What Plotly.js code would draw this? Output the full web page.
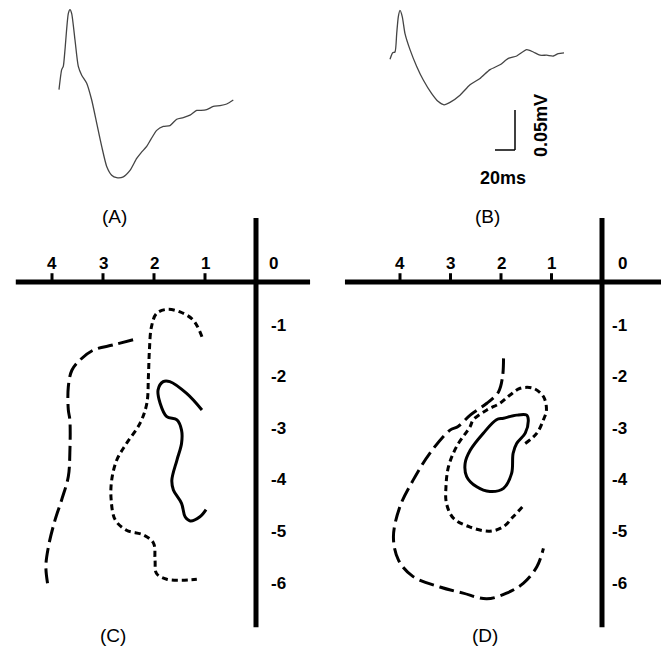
<!DOCTYPE html>
<html>
<head>
<meta charset="utf-8">
<script src="https://cdn.plot.ly/plotly-3.0.1.min.js"></script>
<style>html,body{margin:0;padding:0;background:#fff;}#chart{width:661px;height:650px;}</style>
</head>
<body>
<div id="chart"></div>
<script>
// ---- Waveform data (time in ms, voltage in mV) ----
var waveA_t = [0, 2.7, 4.3, 6, 9.3, 11, 12.7, 16, 19.3, 22.7, 27.7, 32.7, 37.7, 42.7, 47.7, 52.7, 57.7, 64.3, 71, 77.7, 82, 87.7, 92, 97.7, 104.3, 111, 117.7, 124.3, 131, 137.7, 142, 147.7, 154.3, 161, 167.7, 174.3];
var waveA_v = [0.013, 0.038, 0.042, 0.063, 0.108, 0.113, 0.108, 0.075, 0.042, 0.031, 0.021, 0, -0.029, -0.058, -0.083, -0.094, -0.097, -0.096, -0.088, -0.073, -0.066, -0.058, -0.049, -0.038, -0.033, -0.032, -0.024, -0.022, -0.019, -0.013, -0.013, -0.012, -0.008, -0.007, -0.005, 0];
var waveB_t = [0, 2.7, 5, 6.7, 8.3, 10, 12.3, 15, 20, 26.7, 33.3, 41.7, 48.3, 54, 60, 70, 80, 90, 100, 110, 118.3, 126.7, 136.7, 143.3, 150, 156.7, 163.3, 168.3, 174];
var waveB_v = [0.051, 0.059, 0.060, 0.083, 0.104, 0.112, 0.104, 0.083, 0.063, 0.042, 0.025, 0.008, -0.002, -0.006, -0.003, 0.006, 0.019, 0.027, 0.038, 0.044, 0.052, 0.055, 0.063, 0.060, 0.056, 0.056, 0.055, 0.058, 0.059];
var scaleTime = 20;     // ms
var scaleVolt = 0.05;   // mV

// ---- Map data (C) ----
var cLong_x  = [2.41, 2.80, 3.19, 3.45, 3.61, 3.68, 3.68, 3.65, 3.65, 3.68, 3.81, 3.94, 4.07, 4.12, 4.07];
var cLong_y  = [-1.12, -1.22, -1.32, -1.51, -1.71, -2.03, -2.48, -2.67, -3.31, -3.77, -4.22, -4.61, -5.13, -5.52, -5.94];
var cShort_x = [1.06, 1.23, 1.49, 1.75, 1.95, 2.05, 2.09, 2.11, 2.14, 2.27, 2.54, 2.73, 2.83, 2.84, 2.76, 2.54, 2.21, 2.01, 1.98, 1.95, 1.75, 1.46, 1.16];
var cShort_y = [-1.06, -0.74, -0.58, -0.53, -0.61, -0.87, -1.32, -1.84, -2.35, -2.73, -3.13, -3.45, -3.84, -4.22, -4.61, -4.81, -4.90, -5.06, -5.39, -5.65, -5.76, -5.78, -5.76];
var cSolid_x = [1.06, 1.36, 1.69, 1.82, 1.92, 1.88, 1.75, 1.55, 1.46, 1.46, 1.55, 1.65, 1.62, 1.46, 1.39, 1.29, 1.10, 0.98];
var cSolid_y = [-2.48, -2.16, -1.93, -1.93, -2.09, -2.35, -2.61, -2.67, -2.87, -3.13, -3.45, -3.84, -4.03, -4.29, -4.55, -4.63, -4.55, -4.41];

// ---- Map data (D) ----
var dLong_x  = [1.95, 1.97, 2.05, 2.28, 2.61, 2.85, 3.01, 3.41, 3.74, 4.00, 4.13, 4.03, 3.74, 3.21, 2.75, 2.28, 1.89, 1.56, 1.29, 1.16];
var dLong_y  = [-1.48, -1.84, -2.13, -2.35, -2.58, -2.80, -2.87, -3.32, -3.84, -4.35, -4.94, -5.39, -5.71, -5.91, -6.03, -6.14, -6.03, -5.84, -5.52, -5.16];
var dShort_x = [1.52, 1.29, 1.16, 1.10, 1.16, 1.36, 1.62, 1.82, 2.02, 2.28, 2.55, 2.61, 2.88, 3.04, 3.09, 3.08, 2.94, 2.61, 2.22, 1.95, 1.76, 1.56];
var dShort_y = [-3.13, -2.93, -2.67, -2.48, -2.22, -2.06, -2.06, -2.19, -2.35, -2.48, -2.67, -2.80, -3.19, -3.58, -3.97, -4.29, -4.58, -4.75, -4.83, -4.74, -4.55, -4.34];
var dSolid_x = [1.49, 1.46, 1.52, 1.69, 1.76, 1.79, 1.95, 2.22, 2.48, 2.68, 2.71, 2.61, 2.35, 2.09, 1.95, 1.69, 1.49];
var dSolid_y = [-2.58, -2.67, -2.93, -3.13, -3.32, -3.71, -4.00, -4.06, -3.97, -3.77, -3.51, -3.26, -2.93, -2.67, -2.64, -2.58, -2.58];

// ---- Tick labels ----
var xTickVals = [4, 3, 2, 1];
var xTickText = ['4', '3', '2', '1'];
var yTickVals = [-1, -2, -3, -4, -5, -6];
var yTickText = ['-1', '-2', '-3', '-4', '-5', '-6'];
var panelLabels = ['(A)', '(B)', '(C)', '(D)'];

// ---- layout helpers (pixel -> paper) ----
var W = 661, H = 650;
function px(x) { return x / W; }
function py(y) { return 1 - y / H; }

var LONG = '15px,6px', SHORT = '6px,4px';
var traces = [
  {x: waveA_t, y: waveA_v, xaxis: 'x', yaxis: 'y', mode: 'lines', line: {color: '#444', width: 1.3, shape: 'spline', smoothing: 0.6}},
  {x: waveB_t, y: waveB_v, xaxis: 'x2', yaxis: 'y2', mode: 'lines', line: {color: '#444', width: 1.3, shape: 'spline', smoothing: 0.6}},
  {x: cLong_x, y: cLong_y, xaxis: 'x3', yaxis: 'y3', mode: 'lines', line: {color: '#000', width: 3, dash: LONG, shape: 'spline'}},
  {x: cShort_x, y: cShort_y, xaxis: 'x3', yaxis: 'y3', mode: 'lines', line: {color: '#000', width: 3, dash: SHORT, shape: 'spline'}},
  {x: cSolid_x, y: cSolid_y, xaxis: 'x3', yaxis: 'y3', mode: 'lines', line: {color: '#000', width: 3, shape: 'spline'}},
  {x: dLong_x, y: dLong_y, xaxis: 'x4', yaxis: 'y4', mode: 'lines', line: {color: '#000', width: 3, dash: LONG, shape: 'spline'}},
  {x: dShort_x, y: dShort_y, xaxis: 'x4', yaxis: 'y4', mode: 'lines', line: {color: '#000', width: 3, dash: SHORT, shape: 'spline'}},
  {x: dSolid_x, y: dSolid_y, xaxis: 'x4', yaxis: 'y4', mode: 'lines', line: {color: '#000', width: 3, shape: 'spline'}}
];

function hidden(extra) {
  var o = {visible: true, showgrid: false, zeroline: false, showline: false, showticklabels: false, ticks: '', fixedrange: true};
  for (var k in extra) o[k] = extra[k];
  return o;
}

var shapes = [];
var annotations = [];
var boldFont = {family: 'Liberation Sans, Arial, sans-serif', size: 17, color: '#000', weight: 'bold'};
var plainFont = {family: 'Liberation Sans, Arial, sans-serif', size: 19, color: '#000'};

// map panels
var panels = [
  {xa: 'x3', ya: 'y3', hx0: 4.71, hx1: -1.06, zx: 11, yx: 13},
  {xa: 'x4', ya: 'y4', hx0: 5.09, hx1: -1.2, zx: 14, yx: 8}
];
panels.forEach(function (p) {
  shapes.push({type: 'line', xref: p.xa, yref: p.ya, x0: p.hx0, x1: p.hx1, y0: 0, y1: 0, line: {color: '#000', width: 5}});
  shapes.push({type: 'line', xref: p.xa, yref: p.ya, x0: 0, x1: 0, y0: 1.24, y1: -6.69, line: {color: '#000', width: 5}});
  xTickVals.forEach(function (v, i) {
    shapes.push({type: 'line', xref: p.xa, yref: p.ya, x0: v, x1: v, y0: 0, y1: 0.17, line: {color: '#000', width: 3}});
    annotations.push({xref: p.xa, yref: p.ya, x: v, y: 0, text: xTickText[i], showarrow: false, xanchor: 'center', yanchor: 'bottom', yshift: 7, font: boldFont});
  });
  annotations.push({xref: p.xa, yref: p.ya, x: 0, y: 0, text: '0', showarrow: false, xanchor: 'left', yanchor: 'bottom', xshift: p.zx, yshift: 7, font: boldFont});
  yTickVals.forEach(function (v, i) {
    annotations.push({xref: p.xa, yref: p.ya, x: 0, y: v, text: yTickText[i], showarrow: false, xanchor: 'left', yanchor: 'middle', xshift: p.yx, yshift: 8.5, font: boldFont});
  });
});

// scale bar in panel B
var sbT = 105, sbV = -0.0625;
shapes.push({type: 'line', xref: 'x2', yref: 'y2', x0: sbT, x1: sbT + scaleTime, y0: sbV, y1: sbV, line: {color: '#000', width: 1.5}});
shapes.push({type: 'line', xref: 'x2', yref: 'y2', x0: sbT + scaleTime, x1: sbT + scaleTime, y0: sbV, y1: sbV + scaleVolt, line: {color: '#000', width: 1.5}});
annotations.push({xref: 'x2', yref: 'y2', x: sbT + scaleTime / 2 - 2, y: sbV, yanchor: 'top', yshift: -16, text: scaleTime + 'ms', showarrow: false, font: {family: 'Liberation Sans, Arial, sans-serif', size: 18, color: '#000', weight: 'bold'}});
annotations.push({xref: 'x2', yref: 'y2', x: sbT + scaleTime + 26, y: sbV + 0.03, text: scaleVolt + 'mV', textangle: -90, showarrow: false, font: {family: 'Liberation Sans, Arial, sans-serif', size: 18, color: '#000', weight: 'bold'}});

// panel letters
var letterPos = [[114, 216], [487, 216], [113, 635], [485, 635]];
panelLabels.forEach(function (t, i) {
  annotations.push({xref: 'paper', yref: 'paper', x: px(letterPos[i][0]), y: py(letterPos[i][1]), text: t, showarrow: false, xanchor: 'center', yanchor: 'middle', font: plainFont});
});

var layout = {
  width: W, height: H,
  margin: {l: 0, r: 0, t: 0, b: 0},
  paper_bgcolor: '#fff', plot_bgcolor: '#fff',
  showlegend: false,
  xaxis:  hidden({domain: [px(40), px(260)], range: [-19, 201]}),
  yaxis:  hidden({domain: [py(195), py(0)], range: [-0.11875, 0.125]}),
  xaxis2: hidden({domain: [px(370), px(600)], range: [-20, 210]}),
  yaxis2: hidden({domain: [py(195), py(0)], range: [-0.11875, 0.125]}),
  xaxis3: hidden({domain: [px(0), px(330)], range: [256 / 51, (256 - 330) / 51]}),
  yaxis3: hidden({domain: [py(650), py(210)], range: [(282 - 650) / 51.6, (282 - 210) / 51.6]}),
  xaxis4: hidden({domain: [px(330), px(661)], range: [(602 - 330) / 50.5, (602 - 661) / 50.5]}),
  yaxis4: hidden({domain: [py(650), py(210)], range: [(282 - 650) / 51.6, (282 - 210) / 51.6]}),
  shapes: shapes,
  annotations: annotations
};

Plotly.newPlot('chart', traces, layout, {displayModeBar: false, staticPlot: true});
</script>
</body>
</html>
